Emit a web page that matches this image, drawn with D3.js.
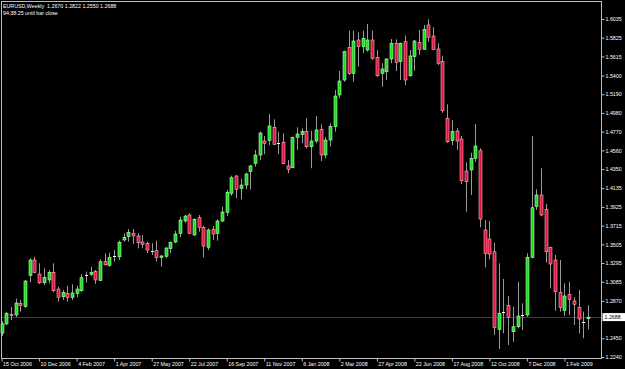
<!DOCTYPE html>
<html>
<head>
<meta charset="utf-8">
<script src="https://cdnjs.cloudflare.com/ajax/libs/d3/7.8.5/d3.min.js"></script>
<style>
    html, body { margin: 0; padding: 0; background: #000; }
    svg { display: block; }
    text { font-family: "Liberation Sans", Arial, sans-serif; white-space: pre; }
</style>
</head>
<body>
<div id="chart"></div>
<script>

// EURUSD weekly, one value per week starting at firstWeek
const firstWeek = "15 Oct 2006";

const opens = [
    1.2509, 1.2611, 1.2719, 1.2712, 1.2843, 1.2805, 1.3157, 1.3329, 1.3172, 1.3074,
    1.3105, 1.3191, 1.3003, 1.2917, 1.2955, 1.2910, 1.2955, 1.2984, 1.3161, 1.3169,
    1.3198, 1.3101, 1.3310, 1.3270, 1.3374, 1.3366, 1.3554, 1.3591, 1.3629, 1.3599,
    1.3531, 1.3517, 1.3433, 1.3433, 1.3359, 1.3371, 1.3456, 1.3531, 1.3629, 1.3767,
    1.3834, 1.3610, 1.3804, 1.3696, 1.3472, 1.3674, 1.3629, 1.3767, 1.3865, 1.4078,
    1.4272, 1.4134, 1.4171, 1.4321, 1.4415, 1.4508, 1.4665, 1.4669, 1.4819, 1.4646,
    1.4651, 1.4385, 1.4365, 1.4707, 1.4740, 1.4770, 1.4601, 1.4665, 1.4797, 1.4508,
    1.4676, 1.4826, 1.5182, 1.5350, 1.5717, 1.5425, 1.5799, 1.5724, 1.5687, 1.5799,
    1.5605, 1.5425, 1.5443, 1.5586, 1.5762, 1.5556, 1.5780, 1.5398, 1.5612, 1.5773,
    1.5695, 1.5968, 1.5844, 1.5698, 1.5556, 1.4920, 1.4669, 1.4777, 1.4688, 1.4328,
    1.4340, 1.4471, 1.4556, 1.3666, 1.3565, 1.3422, 1.2551, 1.2749, 1.2816, 1.2524,
    1.2580, 1.2708, 1.2712, 1.3359, 1.3928, 1.4059, 1.3898, 1.3472, 1.3329, 1.2966,
    1.2760, 1.2944, 1.2869, 1.2798, 1.2630, 1.2670
];

const highs = [
    1.2644, 1.2745, 1.2801, 1.2895, 1.2880, 1.3105, 1.3348, 1.3366, 1.3292, 1.3236,
    1.3217, 1.3292, 1.3029, 1.2992, 1.3041, 1.3056, 1.3041, 1.3169, 1.3198, 1.3254,
    1.3217, 1.3337, 1.3404, 1.3411, 1.3441, 1.3546, 1.3629, 1.3677, 1.3677, 1.3629,
    1.3610, 1.3535, 1.3517, 1.3546, 1.3385, 1.3472, 1.3535, 1.3658, 1.3815, 1.3834,
    1.3853, 1.3797, 1.3834, 1.3711, 1.3685, 1.3711, 1.3786, 1.3928, 1.4115, 1.4276,
    1.4283, 1.4239, 1.4309, 1.4396, 1.4564, 1.4770, 1.4721, 1.4968, 1.4909, 1.4770,
    1.4752, 1.4452, 1.4714, 1.4819, 1.4808, 1.4920, 1.4781, 1.4946, 1.4853, 1.4707,
    1.4864, 1.5238, 1.5451, 1.5679, 1.5904, 1.5904, 1.5886, 1.5904, 1.5979, 1.5904,
    1.5687, 1.5538, 1.5594, 1.5810, 1.5807, 1.5769, 1.5848, 1.5687, 1.5799, 1.5912,
    1.5968, 1.6032, 1.5942, 1.5762, 1.5623, 1.5077, 1.4901, 1.4808, 1.4721, 1.4426,
    1.4534, 1.4856, 1.4583, 1.3778, 1.3767, 1.3523, 1.3292, 1.3116, 1.2925, 1.2805,
    1.3085, 1.2843, 1.3404, 1.4721, 1.4123, 1.4359, 1.3958, 1.3478, 1.3385, 1.3329,
    1.3067, 1.3085, 1.2910, 1.2992, 1.2749, 1.2822
];

const lows = [
    1.2476, 1.2599, 1.2655, 1.2689, 1.2749, 1.2794, 1.3079, 1.3180, 1.3060, 1.3045,
    1.3067, 1.2966, 1.2861, 1.2880, 1.2861, 1.2880, 1.2910, 1.2973, 1.3074, 1.3149,
    1.3060, 1.3093, 1.3265, 1.3254, 1.3310, 1.3329, 1.3535, 1.3535, 1.3509, 1.3460,
    1.3460, 1.3404, 1.3385, 1.3310, 1.3254, 1.3352, 1.3404, 1.3517, 1.3584, 1.3748,
    1.3621, 1.3599, 1.3647, 1.3359, 1.3441, 1.3554, 1.3546, 1.3756, 1.3823, 1.4051,
    1.4022, 1.4011, 1.4123, 1.4123, 1.4377, 1.4452, 1.4516, 1.4620, 1.4620, 1.4516,
    1.4407, 1.4303, 1.4359, 1.4564, 1.4639, 1.4583, 1.4359, 1.4639, 1.4441, 1.4471,
    1.4601, 1.4770, 1.5145, 1.5331, 1.5406, 1.5331, 1.5499, 1.5650, 1.5668, 1.5575,
    1.5387, 1.5275, 1.5350, 1.5538, 1.5451, 1.5350, 1.5294, 1.5387, 1.5455, 1.5631,
    1.5687, 1.5780, 1.5687, 1.5519, 1.4983, 1.4646, 1.4620, 1.4564, 1.4182, 1.3871,
    1.4059, 1.4433, 1.3696, 1.3247, 1.3337, 1.2487, 1.2330, 1.2506, 1.2375, 1.2412,
    1.2562, 1.2543, 1.2692, 1.3348, 1.3891, 1.3823, 1.3299, 1.3011, 1.2760, 1.2749,
    1.2700, 1.2711, 1.2599, 1.2506, 1.2450, 1.2550
];

const closes = [
    1.2611, 1.2731, 1.2704, 1.2846, 1.2816, 1.3093, 1.3329, 1.3191, 1.3074, 1.3135,
    1.3191, 1.2984, 1.2910, 1.2962, 1.2910, 1.2959, 1.3003, 1.3130, 1.3161, 1.3191,
    1.3105, 1.3310, 1.3276, 1.3359, 1.3374, 1.3528, 1.3584, 1.3640, 1.3599, 1.3523,
    1.3505, 1.3441, 1.3433, 1.3359, 1.3374, 1.3464, 1.3528, 1.3621, 1.3778, 1.3823,
    1.3629, 1.3786, 1.3692, 1.3486, 1.3666, 1.3621, 1.3767, 1.3868, 1.4089, 1.4253,
    1.4123, 1.4171, 1.4295, 1.4385, 1.4508, 1.4755, 1.4639, 1.4834, 1.4628, 1.4646,
    1.4415, 1.4347, 1.4707, 1.4744, 1.4770, 1.4601, 1.4665, 1.4789, 1.4508, 1.4676,
    1.4826, 1.5170, 1.5339, 1.5668, 1.5425, 1.5788, 1.5724, 1.5818, 1.5799, 1.5594,
    1.5398, 1.5474, 1.5586, 1.5762, 1.5549, 1.5762, 1.5350, 1.5620, 1.5788, 1.5695,
    1.5919, 1.5830, 1.5695, 1.5538, 1.5005, 1.4657, 1.4770, 1.4665, 1.4219, 1.4208,
    1.4471, 1.4609, 1.3789, 1.3404, 1.3396, 1.2573, 1.2731, 1.2749, 1.2686, 1.2580,
    1.2700, 1.2708, 1.3359, 1.3916, 1.4059, 1.3834, 1.3422, 1.3284, 1.2973, 1.2798,
    1.2925, 1.2888, 1.2832, 1.2667, 1.2630, 1.2688
];

const priceTicks = [
    1.6035, 1.5825, 1.5615, 1.5400, 1.5190, 1.4980, 1.4770, 1.4560, 1.4350,
    1.4135, 1.3925, 1.3715, 1.3505, 1.3295, 1.3085, 1.2870, 1.2450, 1.2240
];

const dateTicks = [
    "15 Oct 2006", "10 Dec 2006", "4 Feb 2007", "1 Apr 2007", "27 May 2007", "22 Jul 2007",
    "16 Sep 2007", "11 Nov 2007", "6 Jan 2008", "2 Mar 2008", "27 Apr 2008", "22 Jun 2008",
    "17 Aug 2008", "12 Oct 2008", "7 Dec 2008", "1 Feb 2009"
];

const symbolTitle = "EURUSD,Weekly";
const countdownText = "94:38:25 until bar close";


class CandleChart {
    constructor(element) {
        this.parentElement = element;
        this.initVis();
    }

    initVis() {
        const vis = this;

        vis.WIDTH = 625;
        vis.HEIGHT = 369;
        vis.FRAME = { LEFT: 1.5, RIGHT: 601.5, TOP: 1.5, BOTTOM: 358.5 };
        vis.FONT = 5.3;

        vis.svg = d3.select(vis.parentElement).append("svg")
            .attr("width", vis.WIDTH)
            .attr("height", vis.HEIGHT)
            .style("background", "#000");

        vis.parse = d3.utcParse("%d %b %Y");
        const start = vis.parse(firstWeek);

        vis.data = opens.map((o, i) => ({
            date: d3.utcWeek.offset(start, i),
            open: o, high: highs[i], low: lows[i], close: closes[i]
        }));

        vis.x = d3.scaleUtc()
            .domain([vis.data[0].date, vis.data[vis.data.length - 1].date])
            .range([1.6, 587.9]);

        vis.y = d3.scaleLinear()
            .domain([1.2240, 1.6035])
            .range([357, 19]);

        vis.render();
    }

    render() {
        const vis = this;
        const last = vis.data[vis.data.length - 1];

        // dim line at the last price
        vis.svg.append("line")
            .attr("x1", vis.FRAME.LEFT).attr("x2", vis.FRAME.RIGHT)
            .attr("y1", Math.round(vis.y(last.close)) + 0.5)
            .attr("y2", Math.round(vis.y(last.close)) + 0.5)
            .attr("stroke", "#3a3a3a");

        const candles = vis.svg.append("g").selectAll("g")
            .data(vis.data)
            .enter().append("g");

        const cx = d => Math.round(vis.x(d.date));

        candles.append("line")
            .attr("x1", d => cx(d) + 0.5)
            .attr("x2", d => cx(d) + 0.5)
            .attr("y1", d => vis.y(d.high))
            .attr("y2", d => vis.y(d.low))
            .attr("stroke", "#9a9a9a")
            .attr("stroke-width", 1);

        candles.filter(d => d.open !== d.close)
            .append("rect")
            .attr("x", d => cx(d) - 1)
            .attr("width", 3)
            .attr("y", d => vis.y(Math.max(d.open, d.close)))
            .attr("height", d => Math.max(1, Math.abs(vis.y(d.open) - vis.y(d.close))))
            .attr("fill", d => d.close > d.open ? "#1fdc1f" : "#e0143c")
            .attr("stroke", d => d.close > d.open ? "#b8ffb8" : "#ffb0c0")
            .attr("stroke-width", 0.6);

        // dojis are a flat white dash
        candles.filter(d => d.open === d.close)
            .append("line")
            .attr("x1", d => cx(d) - 1)
            .attr("x2", d => cx(d) + 2)
            .attr("y1", d => Math.round(vis.y(d.open)) + 0.5)
            .attr("y2", d => Math.round(vis.y(d.open)) + 0.5)
            .attr("stroke", "#fff");

        // frame
        vis.svg.append("rect")
            .attr("x", vis.FRAME.LEFT)
            .attr("y", vis.FRAME.TOP)
            .attr("width", vis.FRAME.RIGHT - vis.FRAME.LEFT)
            .attr("height", vis.FRAME.BOTTOM - vis.FRAME.TOP)
            .attr("fill", "none")
            .attr("stroke", "#bdbdbd");

        vis.drawAxes(last);
        vis.drawHeader(last);
    }

    drawAxes(last) {
        const vis = this;
        const fmt = d3.format(".4f");

        const yAxis = d3.axisRight(vis.y)
            .tickValues(priceTicks)
            .tickFormat(fmt)
            .tickSize(3)
            .tickPadding(1);

        vis.svg.append("g")
            .attr("transform", `translate(${vis.FRAME.RIGHT},0)`)
            .call(yAxis)
            .attr("font-family", null)
            .attr("font-size", vis.FONT)
            .call(g => g.select(".domain").remove())
            .call(g => g.selectAll("line").attr("stroke", "#bdbdbd"))
            .call(g => g.selectAll("text").attr("fill", "#fff"));

        const xAxis = d3.axisBottom(vis.x)
            .tickValues(dateTicks.map(vis.parse))
            .tickFormat(d3.utcFormat("%-d %b %Y"))
            .tickSize(3);

        vis.svg.append("g")
            .attr("transform", `translate(0,${vis.FRAME.BOTTOM})`)
            .call(xAxis)
            .attr("font-family", null)
            .attr("font-size", vis.FONT)
            .call(g => g.select(".domain").remove())
            .call(g => g.selectAll("line").attr("stroke", "#bdbdbd"))
            .call(g => g.selectAll("text")
                .attr("fill", "#fff")
                .attr("text-anchor", "start")
                .attr("x", 1)
                .attr("y", 4));

        // last price tag on the price scale
        const yl = vis.y(last.close);
        vis.svg.append("rect")
            .attr("x", 602.5).attr("y", yl - 4)
            .attr("width", 22.5).attr("height", 8)
            .attr("fill", "#fff");
        vis.svg.append("text")
            .attr("x", 604.5).attr("y", yl)
            .attr("dy", "0.35em")
            .attr("font-size", vis.FONT)
            .attr("fill", "#000")
            .text(fmt(last.close));
    }

    drawHeader(last) {
        const vis = this;
        const fmt = d3.format(".4f");
        const ohlc = [last.open, last.high, last.low, last.close].map(fmt).join(" ");

        vis.svg.append("text")
            .attr("x", 3).attr("y", 8)
            .attr("font-size", vis.FONT)
            .attr("fill", "#fff")
            .text(`${symbolTitle}  ${ohlc}`);

        vis.svg.append("text")
            .attr("x", 3).attr("y", 14.5)
            .attr("font-size", vis.FONT)
            .attr("fill", "#fff")
            .text(countdownText);
    }
}

new CandleChart("#chart");
</script>
</body>
</html>
